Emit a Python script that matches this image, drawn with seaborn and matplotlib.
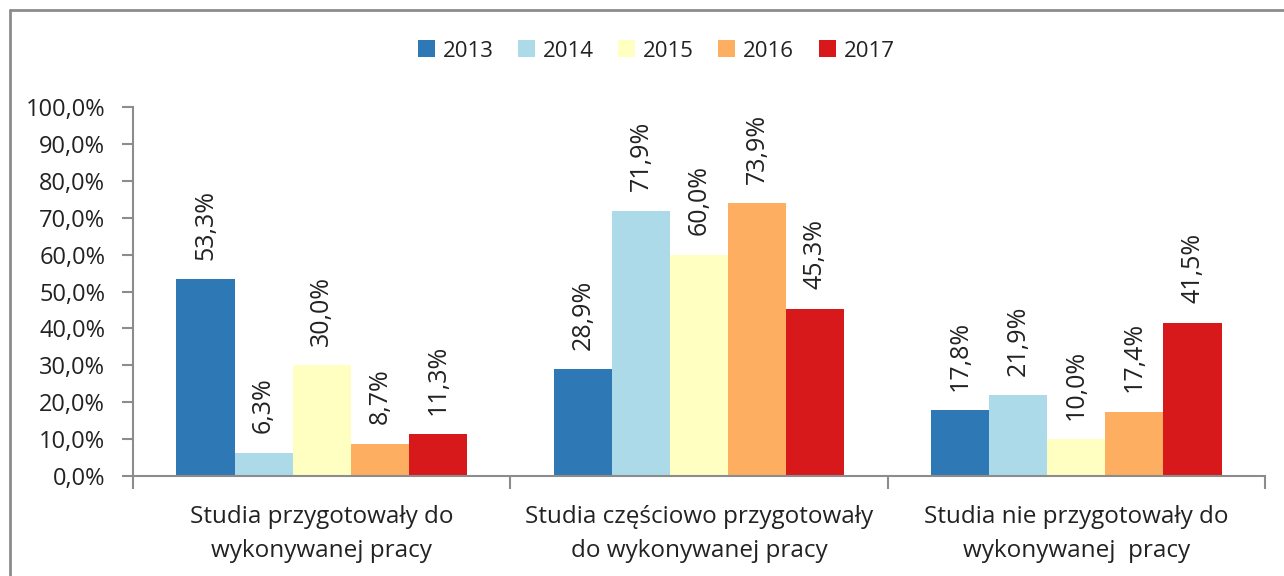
import matplotlib
matplotlib.use("Agg")
import matplotlib.pyplot as plt
from matplotlib.lines import Line2D
from matplotlib.patches import Patch
import seaborn as sns
import pandas as pd

categories = [
    "Studia przygotowały do\nwykonywanej pracy",
    "Studia częściowo przygotowały\ndo wykonywanej pracy",
    "Studia nie przygotowały do\nwykonywanej  pracy",
]
years = ["2013", "2014", "2015", "2016", "2017"]
values_2013 = [53.3, 28.9, 17.8]
values_2014 = [6.3, 71.9, 21.9]
values_2015 = [30.0, 60.0, 10.0]
values_2016 = [8.7, 73.9, 17.4]
values_2017 = [11.3, 45.3, 41.5]
colors = ["#2E78B5", "#ADDAE9", "#FFFFC2", "#FDAE61", "#D7191C"]
y_ticks = [0, 10, 20, 30, 40, 50, 60, 70, 80, 90, 100]

series = [values_2013, values_2014, values_2015, values_2016, values_2017]
rows = []
for year, vals in zip(years, series):
    for cat, v in zip(categories, vals):
        rows.append({"kategoria": cat, "rok": year, "wartosc": v})
df = pd.DataFrame(rows)

sns.set_theme(style="white")
plt.rcParams["font.family"] = ["Open Sans", "DejaVu Sans"]

fig = plt.figure(figsize=(12.84, 5.76), dpi=100)
ax = fig.add_axes([133 / 1284, 1 - 476 / 576, (1265 - 133) / 1284, (476 - 107) / 576])

sns.barplot(
    data=df, x="kategoria", y="wartosc", hue="rok",
    order=categories, hue_order=years, palette=colors,
    width=0.77, gap=0, saturation=1, legend=False, ax=ax,
    linewidth=0,
)

txt_color = "#222222"
axis_color = "#8c8c8c"

# value labels above each bar, rotated
for container in ax.containers:
    labels = [f"{b.get_height():.1f}".replace(".", ",") + "%" for b in container]
    ax.bar_label(container, labels=labels, rotation=90, padding=14,
                 fontsize=18, color=txt_color)

ax.set_xlim(-0.5, 2.5)
ax.set_ylim(0, 100)
ax.set_yticks(y_ticks)
ax.set_yticklabels([f"{t:.1f}".replace(".", ",") + "%" for t in y_ticks],
                   fontsize=17, color=txt_color)
ax.set_xticks([0, 1, 2])
ax.set_xticklabels(categories, fontsize=17.5, color=txt_color, linespacing=1.55)
ax.set_xticks([-0.5, 0.5, 1.5, 2.5], minor=True)
ax.tick_params(axis="x", which="major", length=0, pad=21)
ax.tick_params(axis="x", which="minor", length=9, width=1.5, color=axis_color,
               direction="out", bottom=True)
ax.tick_params(axis="y", which="major", length=8, width=1.5, color=axis_color,
               direction="out", left=True, pad=12)
ax.set_xlabel("")
ax.set_ylabel("")
for side in ["top", "right"]:
    ax.spines[side].set_visible(False)
for side in ["left", "bottom"]:
    ax.spines[side].set_color(axis_color)
    ax.spines[side].set_linewidth(1.5)

handles = [Patch(facecolor=c, edgecolor="none") for c in colors]
fig.legend(handles, years, loc="center", bbox_to_anchor=(656 / 1284, 1 - 51 / 576),
           ncol=5, frameon=False, fontsize=16, handlelength=0.77, handleheight=0.77,
           handletextpad=0.35, columnspacing=1.1, labelcolor=txt_color)

# outer frame (left and top edges)
fig.add_artist(Line2D([9.5 / 1284, 9.5 / 1284], [0, 1 - 10 / 576],
                      transform=fig.transFigure, color="#8c8c8c", lw=2))
fig.add_artist(Line2D([9.5 / 1284, 1], [1 - 10 / 576, 1 - 10 / 576],
                      transform=fig.transFigure, color="#8c8c8c", lw=2))

fig.savefig("out.png", dpi=100, facecolor="white")
